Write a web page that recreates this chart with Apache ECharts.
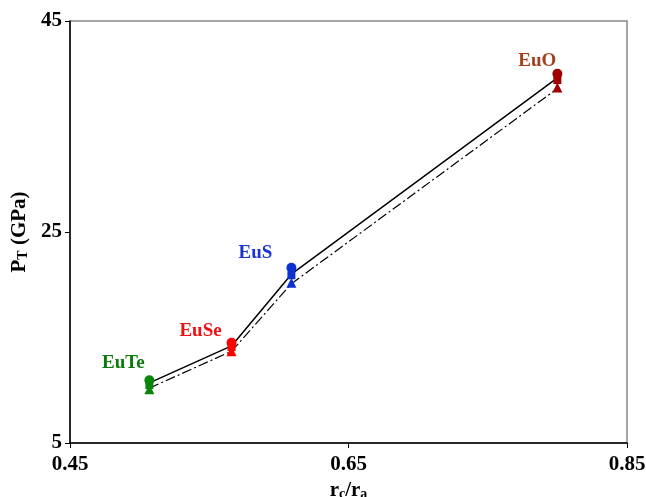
<!DOCTYPE html>
<html><head><meta charset="utf-8">
<script src="https://cdn.jsdelivr.net/npm/echarts@6/dist/echarts.min.js"></script>
<style>html,body{margin:0;padding:0;background:#fff;overflow:hidden}#c{width:646px;height:497px}</style>
</head><body><div id="c"></div>
<script>
const compounds = ['EuTe', 'EuSe', 'EuS', 'EuO'];
const rRatio = [0.507, 0.566, 0.609, 0.800];
const circleVals = [10.95, 14.5, 21.6, 40.0];
const squareVals = [10.5, 14.1, 20.9, 39.4];
const triangleVals = [10.1, 13.7, 20.2, 38.7];
const solidLineVals = [10.7, 14.2, 21.0, 39.6];
const dashLineVals = [10.2, 13.7, 20.1, 38.6];
const xTicks = [0.45, 0.65, 0.85];
const yTicks = [5, 25, 45];

const markerColors = {EuTe: '#0a840a', EuSe: '#ff0000', EuS: '#0a32d0', EuO: '#a00000'};
const labelColors = {EuTe: '#0a7a0a', EuSe: '#ee1111', EuS: '#1a35d0', EuO: '#a3401a'};
const labelOffsets = {EuTe: [-26, -17], EuSe: [-31, -12], EuS: [-36, -15], EuO: [-20, -13]};

const font = 'Liberation Serif';
function pts(vals){ return compounds.map((c,i)=>({value:[rRatio[i], vals[i]], itemStyle:{color:markerColors[c], opacity: 1}})); }

const chart = echarts.init(document.getElementById('c'));
chart.setOption({
  animation: false,
  grid: {left: 70, right: 19, top: 21, bottom: 54, show: true, borderColor: '#888', borderWidth: 1.5,
         outerBoundsMode: 'none', containLabel: false},
  xAxis: {
    type: 'value', min: xTicks[0], max: xTicks[2], interval: 0.2,
    axisLine: {lineStyle: {color: '#000', width: 1.5}},
    axisTick: {show: true, length: 5, lineStyle: {color: '#000'}},
    splitLine: {show: false},
    axisLabel: {fontFamily: font, fontWeight: 'bold', fontSize: 21, color: '#000', margin: 11,
      formatter: v => v.toFixed(2)},
    name: '{b|r}{s|c}{b|/r}{s|a}', nameLocation: 'middle', nameGap: 35,
    nameTextStyle: {rich: {
      b: {fontFamily: font, fontWeight: 'bold', fontSize: 21, color: '#000'},
      s: {fontFamily: font, fontWeight: 'bold', fontSize: 14, color: '#000', verticalAlign: 'bottom', padding: [8,0,0,0]}
    }}
  },
  yAxis: {
    type: 'value', min: yTicks[0], max: yTicks[2], interval: 20,
    axisLine: {show: true, lineStyle: {color: '#000', width: 1.5}},
    axisTick: {show: true, length: 5, lineStyle: {color: '#000'}},
    splitLine: {show: false},
    axisLabel: {fontFamily: font, fontWeight: 'bold', fontSize: 21, color: '#000', margin: 8},
    name: '{b|P}{s|T}{b| (GPa)}', nameLocation: 'middle', nameGap: 38, nameRotate: 90,
    nameTextStyle: {rich: {
      b: {fontFamily: font, fontWeight: 'bold', fontSize: 21, color: '#000'},
      s: {fontFamily: font, fontWeight: 'bold', fontSize: 14, color: '#000', verticalAlign: 'bottom', padding: [8,0,0,0]}
    }}
  },
  series: [
    {type: 'line', data: compounds.map((c,i)=>[rRatio[i], solidLineVals[i]]), symbol: 'none',
     lineStyle: {color: '#000', width: 1.5}, z: 2},
    {type: 'line', data: compounds.map((c,i)=>[rRatio[i], dashLineVals[i]]), symbol: 'none',
     lineStyle: {color: '#000', width: 1.2, type: [10, 3, 2, 3]}, z: 2},
    {type: 'scatter', data: pts(triangleVals), symbol: 'triangle', symbolSize: 10, z: 3},
    {type: 'scatter', data: pts(squareVals), symbol: 'rect', symbolSize: 8, z: 3},
    {type: 'scatter', data: compounds.map((c,i)=>({
        value: [rRatio[i], circleVals[i]], itemStyle: {color: markerColors[c], opacity: 1},
        label: {show: true, formatter: c, position: 'inside', offset: labelOffsets[c],
          color: labelColors[c], fontFamily: font, fontWeight: 'bold', fontSize: 19}
      })), symbol: 'circle', symbolSize: 10, z: 4}
  ]
});
</script></body></html>
